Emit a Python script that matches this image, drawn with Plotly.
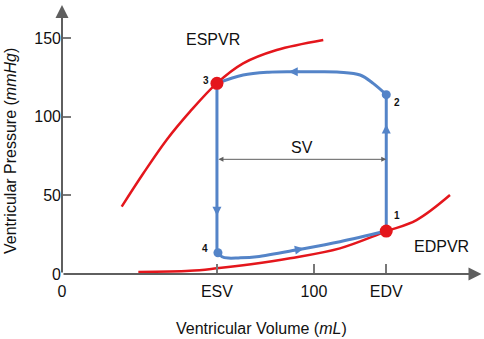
import numpy as np
import plotly.graph_objects as go

# ---------------- data ----------------
ESV = 61.5
EDV = 128.7

x_ticks = [0, ESV, 100, EDV]
x_ticktext = ["0", "ESV", "100", "EDV"]
y_ticks = [0, 50, 100, 150]

# ESPVR (end-systolic pressure-volume relation)
espvr_x = [23.7, 32.3, 41.5, 50.8, 61.4, 71.9, 85.2, 103.7]
espvr_y = [42.8, 64.0, 85.2, 103.2, 121.2, 133.9, 142.4, 148.8]

# EDPVR (end-diastolic pressure-volume relation)
edpvr_x = [30.3, 50.8, 61.4, 75.0, 90.5, 110.3, 128.2, 140.7, 154.0]
edpvr_y = [1.3, 2.0, 3.6, 6.2, 10.0, 16.3, 26.8, 34.3, 50.2]

# PV loop segments
p1 = (EDV, 27.3)   # end diastole
p2 = (EDV, 114.0)  # aortic valve opens
p3 = (ESV, 121.2)  # end systole
p4 = (61.9, 13.5)  # mitral valve opens

eject_x = [ESV, 71.9, 82.0, 91.8, 102.0, 110.3, 118.3, 123.5, EDV]
eject_y = [121.2, 126.5, 128.3, 128.6, 128.6, 128.3, 126.5, 121.2, 114.0]

fill_x = [61.9, 63.5, 66.0, 70.0, 77.3, 94.4, 110.3, EDV]
fill_y = [13.5, 11.0, 10.1, 10.2, 11.0, 15.7, 20.5, 27.3]

sv_level = 72.9

RED = "rgb(228,22,28)"
BLUE = "rgb(84,132,200)"
AX = "rgb(95,95,95)"
FONT = "Liberation Sans, Arial, Helvetica, sans-serif"

fig = go.Figure()

fig.add_trace(go.Scatter(x=espvr_x, y=espvr_y, mode="lines",
                         line=dict(color=RED, width=2.5, shape="spline"),
                         hoverinfo="skip", cliponaxis=False))
fig.add_trace(go.Scatter(x=edpvr_x, y=edpvr_y, mode="lines",
                         line=dict(color=RED, width=2.5, shape="spline"),
                         hoverinfo="skip", cliponaxis=False))

# isovolumic contraction (1 -> 2)
fig.add_trace(go.Scatter(x=[p1[0], p2[0]], y=[p1[1], p2[1]], mode="lines",
                         line=dict(color=BLUE, width=3), hoverinfo="skip"))
# ejection (2 -> 3)
fig.add_trace(go.Scatter(x=eject_x, y=eject_y, mode="lines",
                         line=dict(color=BLUE, width=3, shape="spline"),
                         hoverinfo="skip"))
# isovolumic relaxation (3 -> 4)
fig.add_trace(go.Scatter(x=[p3[0], p3[0], p4[0]], y=[p3[1], p4[1] + 1.5, p4[1]], mode="lines",
                         line=dict(color=BLUE, width=3), hoverinfo="skip"))
# filling (4 -> 1)
fig.add_trace(go.Scatter(x=fill_x, y=fill_y, mode="lines",
                         line=dict(color=BLUE, width=3, shape="spline"),
                         hoverinfo="skip"))

# blue dots (2, 4)
fig.add_trace(go.Scatter(x=[p2[0], p4[0]], y=[p2[1], p4[1]], mode="markers",
                         marker=dict(color=BLUE, size=9), hoverinfo="skip"))
# red dots (1, 3)
fig.add_trace(go.Scatter(x=[p1[0], p3[0]], y=[p1[1], p3[1]], mode="markers",
                         marker=dict(color=RED, size=13), hoverinfo="skip"))

annotations = []

# axes with arrows
x_end, y_end = 166.5, 171
annotations.append(dict(x=x_end, y=0, ax=0, ay=0, xref="x", yref="y", axref="x", ayref="y",
                        text="", showarrow=True, arrowhead=2, arrowsize=1.3, arrowwidth=2,
                        arrowcolor=AX))
annotations.append(dict(x=0, y=y_end, ax=0, ay=0, xref="x", yref="y", axref="x", ayref="y",
                        text="", showarrow=True, arrowhead=2, arrowsize=1.3, arrowwidth=2,
                        arrowcolor=AX))

# SV double arrow
annotations.append(dict(x=EDV, y=sv_level, ax=ESV, ay=sv_level, xref="x", yref="y",
                        axref="x", ayref="y", text="", showarrow=True, arrowhead=2,
                        arrowside="end+start", arrowsize=1.0, arrowwidth=1, arrowcolor=AX))
annotations.append(dict(x=(ESV + EDV) / 2, y=sv_level, text="SV", showarrow=False,
                        yanchor="bottom", yshift=1, font=dict(size=16, color="#111", family=FONT)))

# direction arrows on the loop
def arrow(hx, hy, tx, ty):
    annotations.append(dict(x=hx, y=hy, ax=tx, ay=ty, xref="x", yref="y", axref="x", ayref="y",
                            text="", showarrow=True, arrowhead=2, arrowsize=0.9, arrowwidth=2,
                            arrowcolor=BLUE))

ax_top = 90.0
arrow(ax_top, float(np.interp(ax_top, eject_x, eject_y)),
      ax_top + 5, float(np.interp(ax_top + 5, eject_x, eject_y)))
arrow(EDV, 95.0, EDV, 88.0)
arrow(ESV, 37.0, ESV, 45.0)
ax_bot = 96.0
arrow(ax_bot, float(np.interp(ax_bot, fill_x, fill_y)),
      ax_bot - 5, float(np.interp(ax_bot - 5, fill_x, fill_y)))

# curve labels
annotations.append(dict(x=59.9, y=148.8, text="ESPVR", showarrow=False,
                        font=dict(size=16, color="#111", family=FONT)))
annotations.append(dict(x=150.7, y=17.8, text="EDPVR", showarrow=False,
                        font=dict(size=16, color="#111", family=FONT)))

# point labels
for txt, (px, py) in zip(["1", "2", "3", "4"],
                         [(133.0, 37.5), (133.0, 108.9), (57.0, 123.3), (56.7, 16.3)]):
    annotations.append(dict(x=px, y=py, text="<b>" + txt + "</b>", showarrow=False,
                            font=dict(size=10, color="#111", family=FONT)))

# axis titles
annotations.append(dict(x=0.476, y=-0.203, xref="paper", yref="paper",
                        text="Ventricular Volume (<i>mL</i>)", showarrow=False,
                        yanchor="middle", font=dict(size=16, color="#111", family=FONT)))
annotations.append(dict(x=-0.124, y=0.457, xref="paper", yref="paper",
                        text="Ventricular Pressure (<i>mmHg</i>)", showarrow=False,
                        textangle=-90, xanchor="center", yanchor="middle",
                        font=dict(size=16, color="#111", family=FONT)))

fig.update_layout(
    width=484, height=339,
    margin=dict(l=62, r=2, t=5, b=65),
    paper_bgcolor="white", plot_bgcolor="white",
    showlegend=False,
    annotations=annotations,
    font=dict(family=FONT, size=16, color="#111"),
    xaxis=dict(range=[0, 166.7], showgrid=False, zeroline=False, showline=False,
               tickvals=x_ticks, ticktext=x_ticktext, ticks="inside", ticklen=10,
               tickwidth=1.5, tickcolor="rgb(120,120,120)", ticklabelstandoff=6,
               tickfont=dict(size=16, color="#111", family=FONT), fixedrange=True),
    yaxis=dict(range=[0, 171], showgrid=False, zeroline=False, showline=False,
               tickvals=y_ticks, ticks="inside", ticklen=9, tickwidth=1.5,
               tickcolor="rgb(120,120,120)",
               tickfont=dict(size=16, color="#111", family=FONT), fixedrange=True),
)

fig.write_html("out.html", config={"displayModeBar": False},
               post_script="document.body.style.margin='0px';document.body.style.overflow='hidden';")
